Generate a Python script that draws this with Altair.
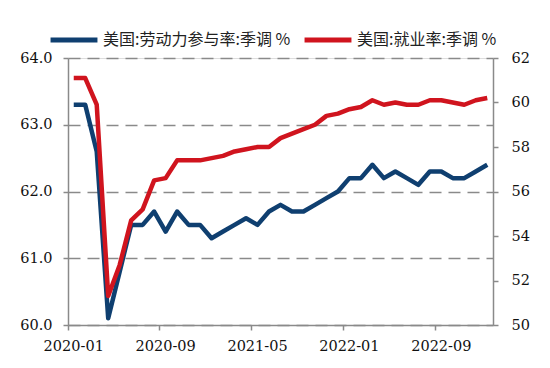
import altair as alt
import pandas as pd

months = [f"{y}-{m:02d}" for y in (2020, 2021, 2022) for m in range(1, 13)] + ["2023-01"]
lfpr = [63.3, 63.3, 62.6, 60.1, 60.8, 61.5, 61.5, 61.7, 61.4, 61.7, 61.5, 61.5,
        61.3, 61.4, 61.5, 61.6, 61.5, 61.7, 61.8, 61.7, 61.7, 61.8, 61.9, 62.0,
        62.2, 62.2, 62.4, 62.2, 62.3, 62.2, 62.1, 62.3, 62.3, 62.2, 62.2, 62.3, 62.4]
epop = [61.1, 61.1, 59.9, 51.3, 52.7, 54.7, 55.2, 56.5, 56.6, 57.4, 57.4, 57.4,
        57.5, 57.6, 57.8, 57.9, 58.0, 58.0, 58.4, 58.6, 58.8, 59.0, 59.4, 59.5,
        59.7, 59.8, 60.1, 59.9, 60.0, 59.9, 59.9, 60.1, 60.1, 60.0, 59.9, 60.1, 60.2]
x_ticks = ["2020-01", "2020-09", "2021-05", "2022-01", "2022-09"]
left_ticks = [60, 61, 62, 63, 64]
right_ticks = [50, 52, 54, 56, 58, 60, 62]
series = ["美国:劳动力参与率:季调 %", "美国:就业率:季调 %"]

BLUE = "#0f3f70"
RED = "#d0141e"
GRAY = "#8a8a8a"
NUM_FONT = "DejaVu Serif"
CJK_FONT = "Noto Sans CJK SC"
NUM_SIZE = 14.5

df = pd.DataFrame({
    "month": months * 2,
    "value": lfpr + epop,
    "series": [series[0]] * len(months) + [series[1]] * len(months),
})

color = alt.Color(
    "series:N",
    scale=alt.Scale(domain=series, range=[BLUE, RED]),
    legend=alt.Legend(
        title=None, orient="none", direction="horizontal",
        legendX=-20, legendY=-44,
        symbolType="stroke", symbolSize=2200, symbolStrokeWidth=5,
        labelFont=CJK_FONT, labelFontSize=16, labelColor="#222",
        labelOffset=3, columnPadding=3, labelLimit=400,
    ),
)

xenc = alt.X(
    "month:O",
    sort=months,
    scale=alt.Scale(type="band", paddingInner=0, paddingOuter=0),
    axis=alt.Axis(
        values=x_ticks, labelAngle=0, bandPosition=0, title=None,
        domainColor=GRAY, domainWidth=1.5, tickColor=GRAY, tickWidth=1.5,
        tickSize=5, labelFont=NUM_FONT, labelFontSize=NUM_SIZE, labelColor="#111",
        labelPadding=9, grid=False,
    ),
)

left = alt.Chart(df).transform_filter(alt.datum.series == series[0]).mark_line(
    strokeWidth=4.5, strokeJoin="round"
).encode(
    x=xenc,
    y=alt.Y(
        "value:Q",
        scale=alt.Scale(domain=[60, 64], nice=False, zero=False),
        axis=alt.Axis(
            values=left_ticks, format=".1f", title=None, orient="left",
            grid=True, gridDash=[12, 7], gridColor=GRAY, gridWidth=1.5,
            domainColor=GRAY, domainWidth=1.5, tickColor=GRAY, tickWidth=1.5,
            tickSize=5, labelFont=NUM_FONT, labelFontSize=NUM_SIZE, labelColor="#111",
            labelPadding=11,
        ),
    ),
    color=color,
)

right = alt.Chart(df).transform_filter(alt.datum.series == series[1]).mark_line(
    strokeWidth=4.5, strokeJoin="round"
).encode(
    x=xenc,
    y=alt.Y(
        "value:Q",
        scale=alt.Scale(domain=[50, 62], nice=False, zero=False),
        axis=alt.Axis(
            values=right_ticks, format="d", title=None, orient="right",
            grid=False,
            domainColor=GRAY, domainWidth=1.5, tickColor=GRAY, tickWidth=1.5,
            tickSize=5, labelFont=NUM_FONT, labelFontSize=NUM_SIZE, labelColor="#111",
            labelPadding=13,
        ),
    ),
    color=color,
)

chart = alt.layer(left, right).resolve_scale(y="independent").properties(
    width=425, height=267,
    autosize=alt.AutoSizeParams(type="none"),
    padding={"left": 60, "top": 50, "right": 40, "bottom": 35},
).configure_view(stroke=None).configure(background="white")

chart.save("out.html", embed_options={"renderer": "svg", "actions": False})
